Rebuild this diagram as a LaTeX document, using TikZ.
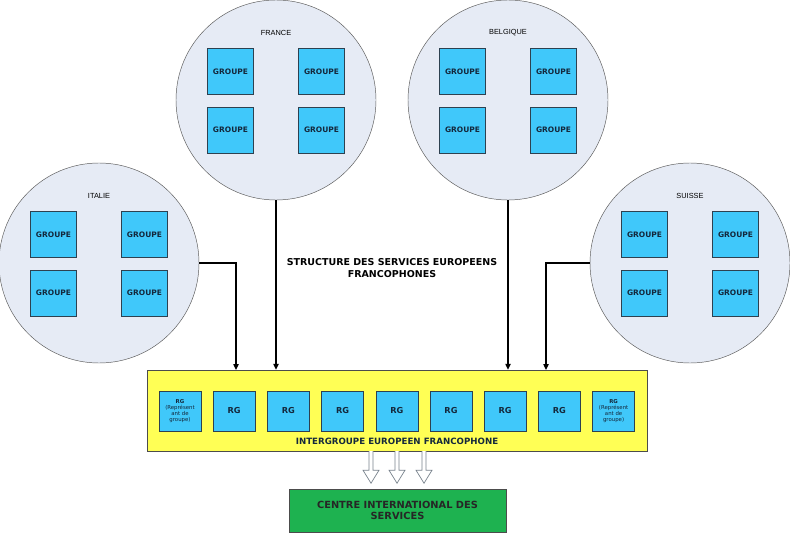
\documentclass[tikz,border=0pt]{standalone}
\usepackage{fontspec}
\setmainfont{DejaVu Sans}
\newfontfamily\arialfont{Liberation Sans}
\usetikzlibrary{arrows.meta,calc}

\definecolor{paysfill}{RGB}{230,235,245}
\definecolor{groupeblue}{RGB}{64,200,250}
\definecolor{groupeline}{RGB}{45,65,80}
\definecolor{groupetext}{RGB}{20,40,60}
\definecolor{igfyellow}{RGB}{255,255,85}
\definecolor{centregreen}{RGB}{30,178,80}
\definecolor{hollowline}{RGB}{120,130,140}

\tikzset{
  pays/.style={circle, draw=black!65, fill=paysfill, minimum size=6cm, inner sep=0pt},
  paysname/.style={font=\arialfont\fontsize{6.3}{7}\selectfont},
  groupe/.style={draw=groupeline, fill=groupeblue, minimum size=1.38cm, inner sep=0pt,
    text=groupetext, font=\bfseries\fontsize{6.4}{7}\selectfont},
  rg/.style={draw=groupeline, fill=groupeblue, minimum width=1.26cm, minimum height=1.2cm,
    inner sep=0pt, align=center, text=groupetext, font=\bfseries\fontsize{7}{8}\selectfont},
  rgnote/.style={rg, font=\fontsize{4.6}{5.2}\selectfont},
  titre/.style={align=center, font=\bfseries\fontsize{8.1}{10.2}\selectfont},
  link/.style={-{Triangle[width=4.5pt,length=5pt]}, line width=0.9pt},
  hollow/.style={draw=hollowline, fill=white, line width=0.6pt, line join=miter},
}

\begin{document}
\begin{tikzpicture}[x=0.03cm, y=-0.03cm]
  \useasboundingbox (0,0) rectangle (790,538);

  % pays et leurs groupes
  \foreach \nom/\lab/\cx/\cy in {fr/FRANCE/276/100, be/BELGIQUE/508/100,
                                 it/ITALIE/99/263, ch/SUISSE/690/263} {
    \node[pays] (\nom) at (\cx,\cy) {};
    \node[paysname] (\nom-lab) at (\cx,\cy-67) {\lab};
    \node[groupe] (\nom-g1) at (\cx-45.5,\cy-28.5) {GROUPE};
    \node[groupe] (\nom-g2) at (\cx+45.5,\cy-28.5) {GROUPE};
    \node[groupe] (\nom-g3) at (\cx-45.5,\cy+30) {GROUPE};
    \node[groupe] (\nom-g4) at (\cx+45.5,\cy+30) {GROUPE};
  }

  \node[titre] (titre) at (392,268) {STRUCTURE DES SERVICES EUROPEENS\\FRANCOPHONES};

  % intergroupe
  \node[draw=black!70, fill=igfyellow, minimum width=15cm, minimum height=2.43cm] (igf) at (397,410.5) {};
  \node[anchor=base, yshift=6pt, font=\bfseries\fontsize{7.4}{8}\selectfont, text=groupetext] (igf-lab)
    at (igf.south) {INTERGROUPE EUROPEEN FRANCOPHONE};
  \node[rgnote] (rg1) at (180,411) {{\bfseries RG}\\(Représent\\ant de\\groupe)};
  \foreach \i in {2,...,8}
    \node[rg] (rg\i) at ({180+54.2*(\i-1)},411) {RG};
  \node[rgnote] (rg9) at (613.6,411) {{\bfseries RG}\\(Représent\\ant de\\groupe)};

  % centre
  \node[draw=black!70, fill=centregreen, minimum width=6.51cm, minimum height=1.29cm, align=center,
    font=\bfseries\fontsize{8.4}{10}\selectfont, text=black!85] (cis) at (397.5,510.5)
    {CENTRE INTERNATIONAL DES\\SERVICES};

  % liaisons
  \coordinate (it-in) at (236,370);
  \coordinate (ch-in) at (546,370);
  \draw[link] (it.east) -| (it-in);
  \draw[link] (fr.south) -- (fr.south |- igf.north);
  \draw[link] (be.south) -- (be.south |- igf.north);
  \draw[link] (ch.west) -| (ch-in);

  \foreach \dx in {-26,0,27}
    \draw[hollow] ($(igf.south)+(\dx-2,0)$) -- ++(0,19) -- ++(-6,0) -- ++(8,13)
      -- ++(8,-13) -- ++(-6,0) -- ++(0,-19);
\end{tikzpicture}
\end{document}
